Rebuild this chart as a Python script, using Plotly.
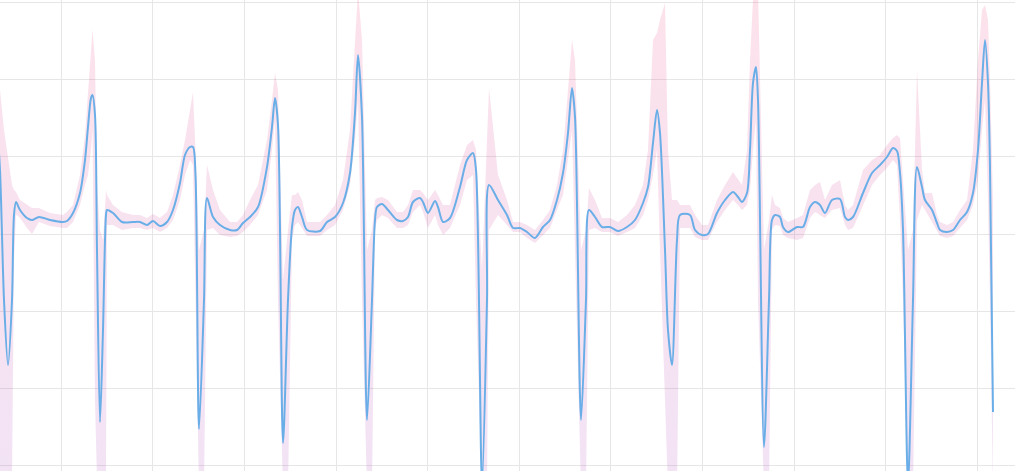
import plotly.graph_objects as go

# sample position (time index)
t = [-3, 0, 4, 8, 12, 14, 16, 20, 27, 32, 39, 50, 63, 67, 73, 80, 85, 88, 91, 92.5,
     95, 97, 100, 103, 106, 107, 113, 122, 133, 140, 147, 153, 160, 167, 173, 180, 185, 190, 193, 195.5,
     199, 204, 207, 213, 220, 230, 237, 243, 250, 258, 267, 272, 275, 278, 283, 288, 292, 295, 298, 302,
     307, 320, 327, 335, 343, 350, 355, 358, 362, 367, 372, 375, 377, 382, 388, 397, 403, 408, 413, 420,
     423, 428, 435, 438, 443, 450, 460, 467, 473, 476, 482, 487, 489, 498, 507, 513, 520, 527, 535, 543,
     550, 557, 563, 568, 572, 575, 581, 586, 589, 595, 602, 610, 618, 627, 635, 643, 648, 653, 657, 660,
     665, 668, 672, 677, 680, 690, 695, 702, 708, 717, 725, 733, 738, 742, 747, 750, 753, 756, 758, 764,
     769, 772, 775, 780, 783, 788, 797, 803, 810, 815, 820, 825, 832, 840, 845, 848, 853, 863, 872, 880,
     887, 893, 897, 900, 903, 908, 913, 917, 922, 925, 932, 937, 940, 947, 953, 960, 967, 973, 978, 982,
     985, 988, 990, 993]

# mean signal amplitude
signal = [109, 64, -66, -131, -66, 19, 32, 24, 16, 14, 17, 14, 12, 13, 21, 41, 74, 107, 136, 139,
          119, -16, -188, -96, 19, 24, 21, 12, 12, 12, 9, 13, 8, 12, 24, 51, 79, 87, 87, 59,
          -195, -66, 36, 17, 9, 4, 4, 11, 17, 27, 67, 107, 136, 109, -209, -66, 7, 24, 27, 17,
          4, 3, 12, 17, 31, 61, 121, 179, 117, -186, -66, 14, 27, 30, 24, 14, 13, 17, 32, 36,
          32, 21, 33, 27, 12, 16, 47, 74, 81, 64, -251, -66, 49, 34, 19, 6, 6, 2, -4, 7,
          14, 34, 61, 101, 146, 117, -186, -66, 24, 17, 7, 7, 3, 7, 14, 31, 47, 91, 124, 101,
          -16, -96, -131, -6, 19, 19, 4, -1, 0, 21, 34, 42, 37, 32, 41, 84, 151, 167, 134, -213,
          -66, 14, 19, 17, 7, 2, 7, 7, 27, 32, 29, 21, 34, 35, 17, 14, 17, 41, 61, 69,
          77, 86, 83, 61, 4, -251, -66, 67, 47, 34, 24, 11, 4, 2, 4, 14, 22, 41, 84, 151,
          194, 151, 67, -178]

# upper bound of the band
upper = [154, 144, 104, 74, 49, 44, 42, 34, 29, 26, 26, 21, 19, 22, 29, 59, 99, 139, 189, 204,
         174, 49, 4, -6, 44, 39, 29, 22, 19, 19, 16, 20, 16, 22, 39, 69, 94, 124, 142, 84,
         -16, 4, 69, 44, 24, 12, 12, 19, 34, 49, 94, 134, 161, 144, -46, 4, 39, 39, 42, 34,
         12, 12, 19, 29, 54, 104, 194, 244, 194, -16, 4, 34, 36, 37, 34, 22, 22, 29, 44, 44,
         41, 34, 44, 39, 29, 29, 69, 89, 94, 84, -36, 84, 146, 59, 34, 12, 12, 9, 4, 14,
         24, 49, 84, 144, 194, 174, -16, 4, 46, 34, 16, 16, 12, 19, 29, 49, 84, 194, 201, 214,
         231, 84, 34, 34, 29, 29, 19, 9, 9, 34, 49, 62, 54, 49, 84, 174, 234, 244, 244, -16,
         14, 39, 29, 26, 16, 12, 16, 19, 44, 49, 52, 34, 49, 54, 29, 24, 29, 64, 74, 79,
         89, 96, 99, 96, 54, -16, 4, 164, 64, 41, 41, 19, 12, 9, 12, 24, 34, 84, 174, 224,
         229, 214, 154, 34]

# lower bound of the band
lower = [-66, -246, -256, -256, -246, -26, 20, 16, 6, 0, 12, 8, 6, 6, 12, 29, 49, 59, 84, 104,
         -166, -246, -256, -256, -246, 9, 9, 4, 6, 6, 4, 6, 2, 6, 14, 34, 59, 74, 69, -66,
         -256, -256, 4, 6, -1, -3, -2, 2, 9, 19, 44, 84, 114, -66, -256, -256, -6, 9, 12, 6,
         -2, -2, 4, 9, 24, 49, 94, 134, -66, -256, -256, 4, 14, 19, 16, 6, 6, 9, 22, 29,
         22, 6, 19, 9, -1, 6, 29, 54, 59, -66, -256, -256, 4, 19, 9, 2, 2, -4, -9, -1,
         6, 24, 39, 74, 104, -16, -256, -256, 4, 6, 2, 2, -2, 2, 6, 19, 34, 59, 84, -16,
         -166, -256, -256, -256, 6, 6, -3, -6, -6, 12, 24, 34, 29, 24, 29, 44, 84, 114, -66, -256,
         -256, 4, 9, 8, -1, -4, -6, -4, 16, 22, 19, 16, 24, 26, 9, 4, 6, 29, 49, 59,
         66, 74, 69, 14, -66, -256, -256, 14, 29, 24, 12, 2, -2, -4, -2, 6, 14, 29, 54, 104,
         134, 34, -66, -256]

Y_MIN, Y_MAX = -237, 234

fig = go.Figure()
fig.add_trace(go.Scatter(x=t, y=upper, mode="lines", line=dict(width=0),
                         showlegend=False, hoverinfo="skip"))
fig.add_trace(go.Scatter(x=t, y=lower, mode="lines", line=dict(width=0),
                         fill="tonexty",
                         fillgradient=dict(type="vertical",
                                           colorscale=[[0, "rgba(156,39,176,0.13)"],
                                                       [1, "rgba(233,30,99,0.13)"]],
                                           start=Y_MIN, stop=Y_MAX),
                         showlegend=False, hoverinfo="skip"))
fig.add_trace(go.Scatter(x=t, y=signal, mode="lines",
                         line=dict(color="#6aaee8", width=2, shape="spline", smoothing=0.8),
                         showlegend=False))

fig.update_layout(
    width=1024, height=471,
    margin=dict(l=0, r=9, t=0, b=0),
    paper_bgcolor="white", plot_bgcolor="white",
    xaxis=dict(range=[0, 1015], tick0=61.3, dtick=91.6, showgrid=True,
               gridcolor="#e6e6e6", gridwidth=1, zeroline=False,
               showticklabels=False, showline=False, ticks=""),
    yaxis=dict(range=[Y_MIN, Y_MAX], tick0=0, dtick=77.3, showgrid=True,
               gridcolor="#e6e6e6", gridwidth=1, zeroline=False,
               showticklabels=False, showline=False, ticks=""),
)

fig.write_html("out.html", config={"displayModeBar": False},
               post_script="document.body.style.margin='0px';document.body.style.overflow='hidden';")
